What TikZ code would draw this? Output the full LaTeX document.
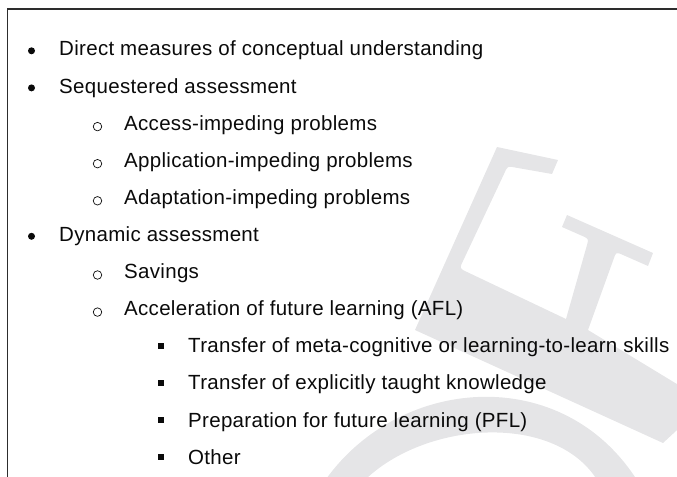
\documentclass[tikz,border=0pt]{standalone}
\usepackage{fontspec}
\setmainfont{Liberation Sans}[LetterSpace=1.5]
\definecolor{wmgray}{RGB}{229,229,231}
\definecolor{txtcol}{RGB}{10,10,10}
\definecolor{framecol}{RGB}{45,45,45}
\begin{document}
\begin{tikzpicture}[x=1bp, y=-1bp,
  item/.style={anchor=base west, inner sep=0pt, text=txtcol, font=\fontsize{20.5bp}{24bp}\selectfont},
  bulletdot/.style={circle, fill=txtcol, inner sep=0pt, minimum size=7bp},
  bulletring/.style={circle, draw=txtcol, line width=0.7bp, inner sep=0pt, minimum size=8.5bp},
  bulletsq/.style={rectangle, fill=txtcol, inner sep=0pt, minimum size=6.5bp}]
  \useasboundingbox (0,0) rectangle (677,477);
  % Watermark
  \begin{scope}
    \clip (0,0) rectangle (677,477);
    \fill[wmgray] (497,147) -- (558,160) -- (552,174) -- (515,167.5) .. controls (507.5,166) .. (504,174)
      -- (463,261) .. controls (459.4,268.4) .. (467,272) -- (566,319) -- (587,245)
      .. controls (588.7,238.8) .. (582,235.8) -- (562,227) -- (567,215) -- (653,253) -- (648,266)
      -- (623,255) .. controls (616.1,252) .. (613.8,258.5) -- (588,330) -- (690,392) -- (690,418)
      -- (663,443) -- (415,330) -- cycle;
    \fill[wmgray] (322,485) .. controls (395,375) and (565,360) .. (640,485)
      -- (600,485) .. controls (560,410) and (420,420) .. (360,485) -- cycle;
  \end{scope}
  % Frame
  \draw[framecol, line width=1.5bp] (7.5,477) -- (7.5,9) -- (677,9);
  % Nodes
  \node (DIRECT) [item] at (59,56.0) {Direct measures of conceptual understanding};
  \node (SEQ) [item] at (59,93.1) {Sequestered assessment};
  \node (ACCESS) [item] at (124,130.2) {Access-impeding problems};
  \node (APPLY) [item] at (124,167.3) {Application-impeding problems};
  \node (ADAPT) [item] at (124,204.4) {Adaptation-impeding problems};
  \node (DYN) [item] at (59,241.5) {Dynamic assessment};
  \node (SAVE) [item] at (124,278.6) {Savings};
  \node (AFL) [item] at (124,315.7) {Acceleration of future learning (AFL)};
  \node (META) [item] at (188,352.8) {Transfer of meta-cognitive or learning-to-learn skills};
  \node (TAUGHT) [item] at (188,389.9) {Transfer of explicitly taught knowledge};
  \node (PFL) [item] at (188,427.0) {Preparation for future learning (PFL)};
  \node (OTHER) [item] at (188,464.1) {Other};
  % Bullets
  \node (b-DIRECT) [bulletdot] at (31.5,50.8) {};
  \node (b-SEQ) [bulletdot] at (31.5,87.9) {};
  \node (b-DYN) [bulletdot] at (31.5,236.3) {};
  \node (b-ACCESS) [bulletring] at (97.5,126.6) {};
  \node (b-APPLY) [bulletring] at (97.5,163.7) {};
  \node (b-ADAPT) [bulletring] at (97.5,200.8) {};
  \node (b-SAVE) [bulletring] at (97.5,275.0) {};
  \node (b-AFL) [bulletring] at (97.5,312.1) {};
  \node (b-META) [bulletsq] at (161,345.8) {};
  \node (b-TAUGHT) [bulletsq] at (161,382.9) {};
  \node (b-PFL) [bulletsq] at (161,420.0) {};
  \node (b-OTHER) [bulletsq] at (161,457.1) {};
\end{tikzpicture}
\end{document}
